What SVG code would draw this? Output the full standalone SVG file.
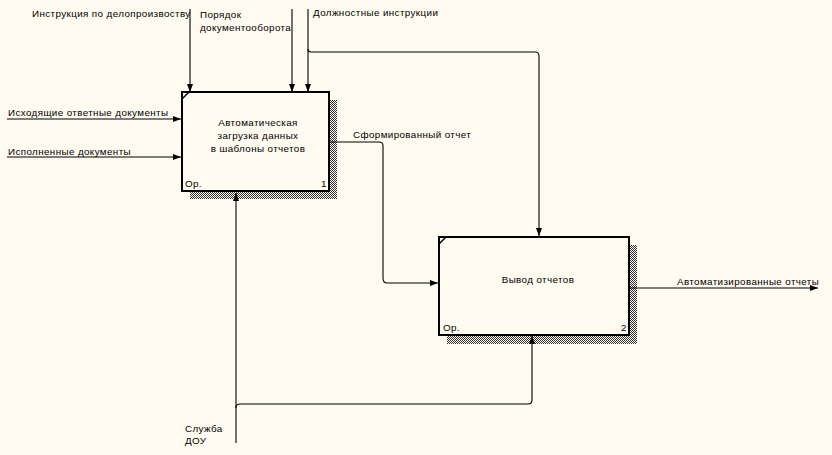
<svg xmlns="http://www.w3.org/2000/svg" width="832" height="455" viewBox="0 0 832 455">
<defs>
<pattern id="dots" width="2" height="2" patternUnits="userSpaceOnUse">
<rect x="0" y="0" width="1" height="1" fill="#000"/>
<rect x="1" y="1" width="1" height="1" fill="#000"/>
</pattern>
<marker id="ah" viewBox="0 0 8 8" refX="8" refY="4" markerWidth="8" markerHeight="8" markerUnits="userSpaceOnUse" orient="auto">
<path d="M0,1 L8,4 L0,7 Z" fill="#000"/>
</marker>
<style>
text{font-family:"Liberation Sans",Arial,sans-serif;font-size:9.8px;fill:#000;letter-spacing:0.4px}
.c{text-anchor:middle}
.box{fill:#FFFBF0;stroke:#000;stroke-width:2}
.sh{fill:url(#dots);opacity:0.8}
.ln{fill:none;stroke:#000;stroke-width:1.1}
.ar{fill:none;stroke:#000;stroke-width:1.1;marker-end:url(#ah)}
</style>
</defs>
<rect width="832" height="455" fill="#FFFBF0"/>
<g id="connectors">
<path class="ar" d="M190,9 V92"/>
<path class="ar" d="M292,9 V92"/>
<path class="ar" d="M308,9 V92"/>
<path class="ar" d="M308,49 Q308,52 311,52 H535 Q539,52 539,56 V236"/>
<path class="ar" d="M7,119 H181"/>
<path class="ar" d="M7,157 H181"/>
<path class="ar" d="M330,142 H379 Q383,142 383,146 V278 Q383,283 387,283 H438"/>
<path class="ar" d="M630,288 H818"/>
<path class="ar" d="M236,443 V193"/>
<path class="ar" d="M236,408 Q236,404 240,404 H528 Q532,404 532,400 V336"/>
</g>
<g id="labels">
<text x="32" y="17">Инструкция по делопроизвоству</text>
<text x="200" y="18">Порядок</text>
<text x="200" y="31">документооборота</text>
<text x="313" y="16">Должностные инструкции</text>
<text x="8" y="116">Исходящие ответные документы</text>
<text x="8" y="155">Исполненные документы</text>
<text x="353" y="138">Сформированный отчет</text>
<text x="677" y="285">Автоматизированные отчеты</text>
<text x="185" y="432">Служба</text>
<text x="185" y="444">ДОУ</text>
</g>
<g id="node1">
<rect class="sh" x="190" y="100" width="147" height="99"/>
<rect class="box" x="182" y="92" width="147" height="99"/>
<path d="M182,99 L189,92" stroke="#000" stroke-width="1.5"/>
<text class="c" x="258" y="126">Автоматическая</text>
<text class="c" x="258" y="139">загрузка данных</text>
<text class="c" x="258" y="152">в шаблоны отчетов</text>
<text x="185" y="187">Ор.</text>
<text x="321" y="187">1</text>
</g>
<g id="node2">
<rect class="sh" x="447" y="245" width="190" height="99"/>
<rect class="box" x="439" y="237" width="190" height="98"/>
<path d="M439,244 L446,237" stroke="#000" stroke-width="1.5"/>
<text class="c" x="538" y="283">Вывод отчетов</text>
<text x="443" y="331">Ор.</text>
<text x="621" y="331">2</text>
</g>
</svg>
